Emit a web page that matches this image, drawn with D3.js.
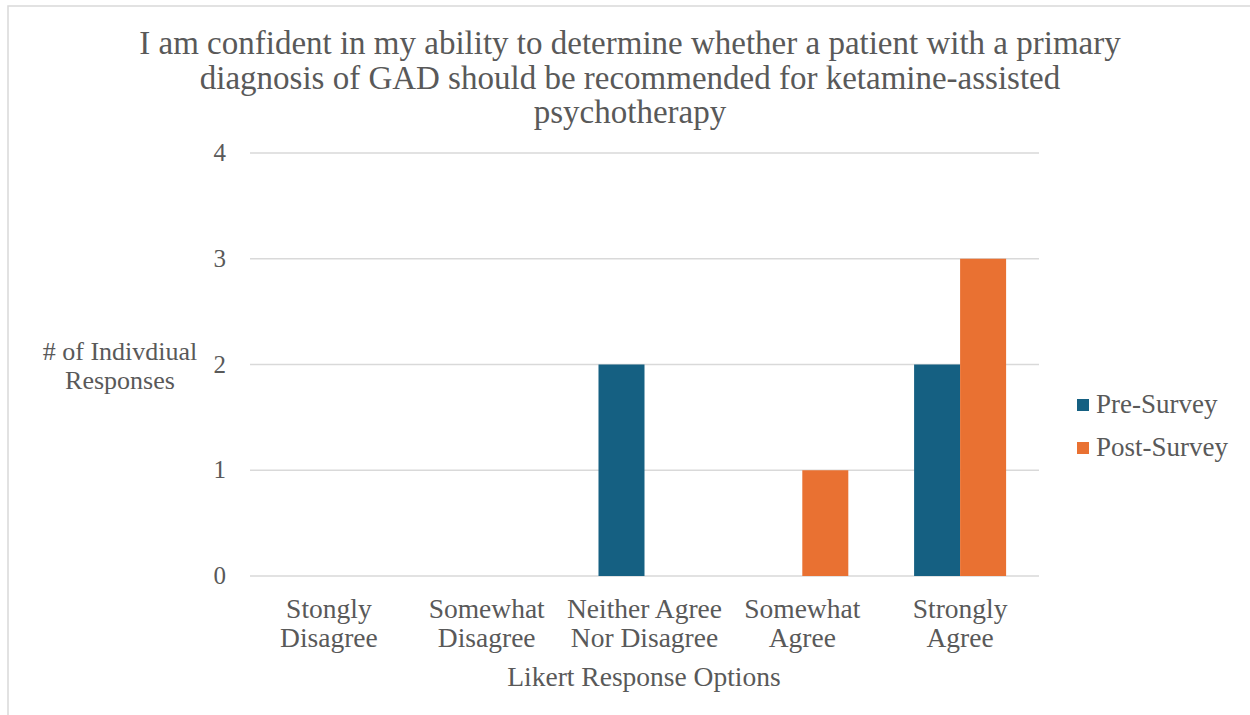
<!DOCTYPE html>
<html>
<head>
<meta charset="utf-8">
<script src="https://cdn.jsdelivr.net/npm/d3@7"></script>
</head>
<body style="margin:0">
<svg id="chart" width="1250" height="715"></svg>
<script>
// Survey responses per Likert option
const categories = [
  ["Stongly", "Disagree"],
  ["Somewhat", "Disagree"],
  ["Neither Agree", "Nor Disagree"],
  ["Somewhat", "Agree"],
  ["Strongly", "Agree"]
];
const seriesNames = ["Pre-Survey", "Post-Survey"];
const preSurvey = [0, 0, 2, 0, 2];
const postSurvey = [0, 0, 0, 1, 3];
const yTicks = [0, 1, 2, 3, 4];
const titleLines = [
  "I am confident in my ability to determine whether a patient with a primary",
  "diagnosis of GAD should be recommended for ketamine-assisted",
  "psychotherapy"
];
const yTitleLines = ["# of Indivdiual", "Responses"];
const xTitle = "Likert Response Options";
const colors = ["#156082", "#E97132"];

const TEXT = "#595959";

const svg = d3.select("#chart");

// every label is set in the same serif face
function serif(sel, size) {
  return sel
    .style("font-family", '"Liberation Serif"')
    .attr("font-family", "Liberation Serif")
    .attr("font-size", size)
    .attr("fill", TEXT);
}

// outer frame
svg.append("rect")
  .attr("x", 8).attr("y", 6).attr("width", 1260).attr("height", 730)
  .attr("fill", "none").attr("stroke", "#d9d9d9").attr("stroke-width", 1.5);

const plot = { left: 250, right: 1039, top: 153, bottom: 576 };

const x0 = d3.scaleBand()
  .domain(d3.range(categories.length))
  .range([plot.left, plot.right])
  .padding(0);

const x1 = d3.scaleBand()
  .domain(d3.range(seriesNames.length))
  .range([0, x0.bandwidth()])
  .paddingInner(0)
  .paddingOuter(0.715);

const y = d3.scaleLinear().domain([0, 4]).range([plot.bottom, plot.top]);

// gridlines
svg.append("g")
  .selectAll("line")
  .data(yTicks)
  .join("line")
  .attr("x1", plot.left).attr("x2", plot.right)
  .attr("y1", d => y(d)).attr("y2", d => y(d))
  .attr("stroke", "#d9d9d9").attr("stroke-width", 1.5);

// y tick labels
serif(svg.append("g")
  .selectAll("text")
  .data(yTicks)
  .join("text"), 25)
  .attr("x", 226)
  .attr("y", d => y(d) + 8)
  .attr("text-anchor", "end")
  .text(d => d);

// bars
const rows = categories.map((c, i) => [preSurvey[i], postSurvey[i]]);
const groups = svg.append("g")
  .selectAll("g")
  .data(rows)
  .join("g")
  .attr("transform", (d, i) => `translate(${x0(i)},0)`);

groups.selectAll("rect")
  .data(d => d.map((v, s) => ({ v, s })))
  .join("rect")
  .filter(d => d.v > 0)
  .attr("x", d => x1(d.s))
  .attr("width", x1.bandwidth())
  .attr("y", d => y(d.v))
  .attr("height", d => y(0) - y(d.v))
  .attr("fill", d => colors[d.s]);

// category labels, two lines each
categories.forEach((lines, i) => {
  lines.forEach((line, j) => {
    serif(svg.append("text"), 27.5)
      .attr("text-anchor", "middle")
      .attr("x", x0(i) + x0.bandwidth() / 2)
      .attr("y", 618 + j * 29)
      .text(line);
  });
});

// title
titleLines.forEach((line, j) => {
  serif(svg.append("text"), 33)
    .attr("text-anchor", "middle")
    .attr("x", 630)
    .attr("y", 54 + j * 34.5)
    .text(line);
});

// y axis title
yTitleLines.forEach((line, j) => {
  serif(svg.append("text"), 26)
    .attr("text-anchor", "middle")
    .attr("x", 120)
    .attr("y", 360 + j * 29)
    .text(line);
});

// x axis title
serif(svg.append("text"), 27.5)
  .attr("text-anchor", "middle")
  .attr("x", 644)
  .attr("y", 686)
  .text(xTitle);

// legend
seriesNames.forEach((name, i) => {
  const g = svg.append("g").attr("transform", `translate(1077,${399 + i * 43})`);
  g.append("rect")
    .attr("width", 12).attr("height", 12)
    .attr("fill", colors[i]);
  serif(g.append("text"), 27)
    .attr("x", 19).attr("y", 14)
    .text(name);
});
</script>
</body>
</html>
